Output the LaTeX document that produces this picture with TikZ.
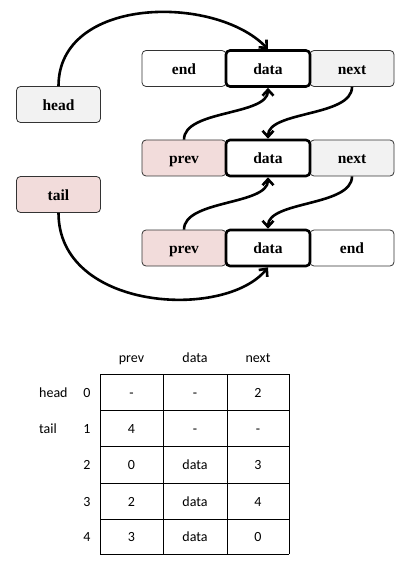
\documentclass[tikz,border=0pt]{standalone}
\usepackage{fontspec}
\setmainfont{Liberation Serif}
\newfontfamily\tabfont{Carlito}
\usetikzlibrary{arrows.meta}
\definecolor{lgray}{HTML}{F2F2F2}
\definecolor{lpink}{HTML}{F2DCDB}
\begin{document}
\begin{tikzpicture}[x=1pt,y=-1pt,
  cell/.style={draw=black!80, line width=0.8pt, rounded corners=4pt,
    minimum width=84pt, minimum height=36pt, inner sep=0pt,
    text height=11.5pt, text depth=0pt,
    font=\bfseries\fontsize{15.5}{18}\selectfont},
  dcell/.style={cell, draw=black, line width=2.6pt},
  link/.style={line width=2.6pt, -{Straight Barb[length=6pt,width=11pt]}},
  tab/.style={font=\tabfont\fontsize{14}{16}\selectfont, inner sep=0pt,
    text height=10.5pt, text depth=0pt},
  grid/.style={line width=0.9pt}]
\useasboundingbox (0,0) rectangle (409,569);
% list nodes
\node[cell] (e1) at (184,68.5) {end};
\node[cell, fill=lgray] (n1) at (352,68.5) {next};
\node[dcell, fill=white] (d1) at (268,68.5) {data};
\node[cell, fill=lpink] (p2) at (184,158) {prev};
\node[cell, fill=lgray] (n2) at (352,158) {next};
\node[dcell, fill=white] (d2) at (268,158) {data};
\node[cell, fill=lpink] (p3) at (184,248) {prev};
\node[cell] (e3) at (352,248) {end};
\node[dcell, fill=white] (d3) at (268,248) {data};
\node[cell, fill=lgray] (hd) at (58.5,104.5) {head};
\node[cell, fill=lpink] (tl) at (58.5,194.5) {tail};
% links
\draw[link] (hd.north) .. controls +(0,-90) and +(-53,-55) .. (d1.north);
\draw[link] (tl.south) .. controls +(0,98) and +(-43,53) .. (d3.south);
\draw[link] (p2.north) .. controls +(0,-30) and +(0,28) .. (d1.south);
\draw[link] (n1.south) .. controls +(0,30) and +(0,-28) .. (d2.north);
\draw[link] (p3.north) .. controls +(0,-30) and +(0,28) .. (d2.south);
\draw[link] (n2.south) .. controls +(0,30) and +(0,-28) .. (d3.north);
% table grid
\foreach \x in {100,163,227,289} \draw[grid] (\x,374) -- (\x,554);
\foreach \y in {374,410,446,483,519,554} \draw[grid] (100,\y) -- (289,\y);
% headers
\node[tab] (hprev) at (131.5,357) {prev};
\node[tab] (hdata) at (195,357) {data};
\node[tab] (hnext) at (258,357) {next};
% row labels
\node[tab, anchor=west] (lhead) at (39,392) {head};
\node[tab, anchor=west] (ltail) at (39,428) {tail};
\foreach \i/\y/\a/\b/\c in {0/392/-/-/2, 1/428/4/-/-, 2/464.5/0/data/3, 3/501/2/data/4, 4/536.5/3/data/0}{
  \node[tab] (r\i) at (87,\y) {\i};
  \node[tab] (r\i a) at (131.5,\y) {\a};
  \node[tab] (r\i b) at (195,\y) {\b};
  \node[tab] (r\i c) at (258,\y) {\c};
}
\end{tikzpicture}
\end{document}
